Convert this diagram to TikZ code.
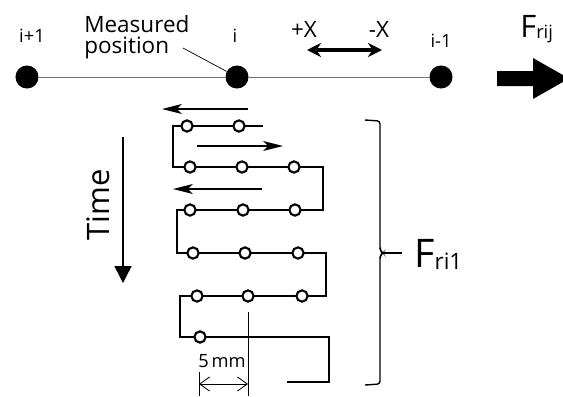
\documentclass[tikz,border=0pt]{standalone}
\usepackage{fontspec}
\setmainfont{Open Sans}
\usetikzlibrary{arrows.meta, positioning, calc}

\newcommand{\fs}[1]{\fontsize{#1}{#1}\selectfont}
\newcommand{\samplept}[2]{%
    \node[sample_pt] (#1) at (#2) {};
}

\begin{document}
\begin{tikzpicture}[
        x=0.025cm, y=-0.025cm,
        >=Stealth,
        big_dot/.style={circle, fill=black, minimum size=16.4pt, inner sep=0pt},
        sample_pt/.style={circle, draw, fill=white, line width=1.5pt, minimum size=8pt, inner sep=0pt},
        scan_line/.style={line width=1.4pt},
        scan_arrow/.style={-{Stealth[length=14pt, width=7pt, inset=3.5pt]}, line width=1.1pt},
        dim_line/.style={line width=0.6pt}
    ]
    \useasboundingbox (0,0) rectangle (563,396);

    % =========================================================================
    % 1. MEASURING LINE (Top)
    % =========================================================================
    \node[big_dot] (dot_ip) at (27, 77) {};
    \node[big_dot] (dot_i) at (237, 77) {};
    \node[big_dot] (dot_im) at (441, 77) {};
    \draw[line width=0.7pt, draw=black!55] (dot_ip) -- (dot_i);
    \draw[line width=0.7pt, draw=black!55] (dot_i) -- (dot_im);

    \node[font=\fs{13}, anchor=base] (lab_ip) at (32, 42) {i+1};
    \node[font=\fs{13}, anchor=base] (lab_i) at (235, 42) {i};
    \node[font=\fs{13}, anchor=base] (lab_im) at (441, 47) {i-1};

    \node[font=\fontsize{16}{15}\selectfont, align=left, anchor=north west, inner sep=0pt] (lab_meas) at (84, 15) {Measured\\position};
    \coordinate (lead_start) at (183, 48);
    \draw[line width=0.5pt] (lead_start) -- (dot_i);

    % direction of scan
    \node[font=\fs{16}, anchor=base] (lab_px) at (304, 37) {+X};
    \node[font=\fs{16}, anchor=base] (lab_mx) at (379, 37) {-X};
    \coordinate (dx_left) at (307, 50);
    \coordinate (dx_right) at (382, 50);
    \draw[{Stealth[length=10pt, width=10pt]}-{Stealth[length=10pt, width=10pt]}, line width=2.2pt] (dx_left) -- (dx_right);

    % force arrow
    \fill (497, 71) -- (533, 71) -- (533, 58) -- (569, 78.5) -- (533, 99) -- (533, 86) -- (497, 86) -- cycle;
    \node[font=\fs{22}, anchor=base west, inner sep=0pt] (lab_frij) at (520, 37) {F\raisebox{-1pt}{\fs{13}rij}};

    % =========================================================================
    % 2. SCAN PATH (Serpentine)
    % =========================================================================
    \draw[scan_line] (263, 126) -- (173, 126) -- (173, 167) -- (323, 167) -- (323, 210)
        -- (177, 210) -- (177, 253) -- (326, 253) -- (326, 296) -- (180, 296)
        -- (180, 337) -- (329, 337) -- (329, 382) -- (287, 382);

    \samplept{c11}{187, 126}
    \samplept{c12}{239, 126}
    \foreach \x [count=\k] in {190, 242, 294} { \samplept{c2\k}{\x, 167} }
    \foreach \x [count=\k] in {190, 243, 295} { \samplept{c3\k}{\x, 210} }
    \foreach \x [count=\k] in {193, 245, 298} { \samplept{c4\k}{\x, 253} }
    \foreach \x [count=\k] in {197, 248, 302} { \samplept{c5\k}{\x, 296} }
    \samplept{c61}{200, 337}

    % scan direction arrows
    \draw[scan_arrow] (248, 109) -- (162, 109);
    \draw[scan_arrow] (197, 146) -- (283, 146);
    \draw[scan_arrow] (262, 189) -- (173, 189);

    % =========================================================================
    % 3. PITCH DIMENSION
    % =========================================================================
    \coordinate (dim_r_top) at ($(c52)+(0, 16)$);
    \coordinate (dim_r_bot) at (248, 396);
    \coordinate (dim_l_top) at (199, 372);
    \coordinate (dim_l_bot) at (199, 396);
    \draw[dim_line] (dim_r_top) -- (dim_r_bot);
    \draw[dim_line] (dim_l_top) -- (dim_l_bot);
    \draw[dim_line, {Straight Barb[length=7pt, width=10pt]}-{Straight Barb[length=7pt, width=10pt]}] (199, 384) -- (248, 384);
    \node[font=\fs{13}, anchor=base] (lab_pitch) at (222, 367) {5\,mm};

    % =========================================================================
    % 4. TIME AXIS & BRACKET
    % =========================================================================
    \coordinate (time_top) at (123, 137);
    \coordinate (time_bot) at (123, 283);
    \draw[-{Triangle[length=12pt, width=12pt]}, line width=1pt] (time_top) -- (time_bot);
    \node[font=\fs{22}, rotate=90] (lab_time) at (98, 205) {Time};

    \draw[line width=1pt, rounded corners=2pt] (365, 120) -- (380, 121) -- (380, 250) -- (383, 253)
        -- (380, 256) -- (380, 384) -- (365, 385);
    \coordinate (br_tip) at (383, 253);
    \coordinate (br_end) at (402, 253);
    \draw[line width=1pt] (br_tip) -- (br_end);
    \node[font=\fs{28}, anchor=base west, inner sep=0pt] (lab_fri) at (414, 267) {F\raisebox{-2pt}{\fs{16}ri1}};

\end{tikzpicture}
\end{document}
